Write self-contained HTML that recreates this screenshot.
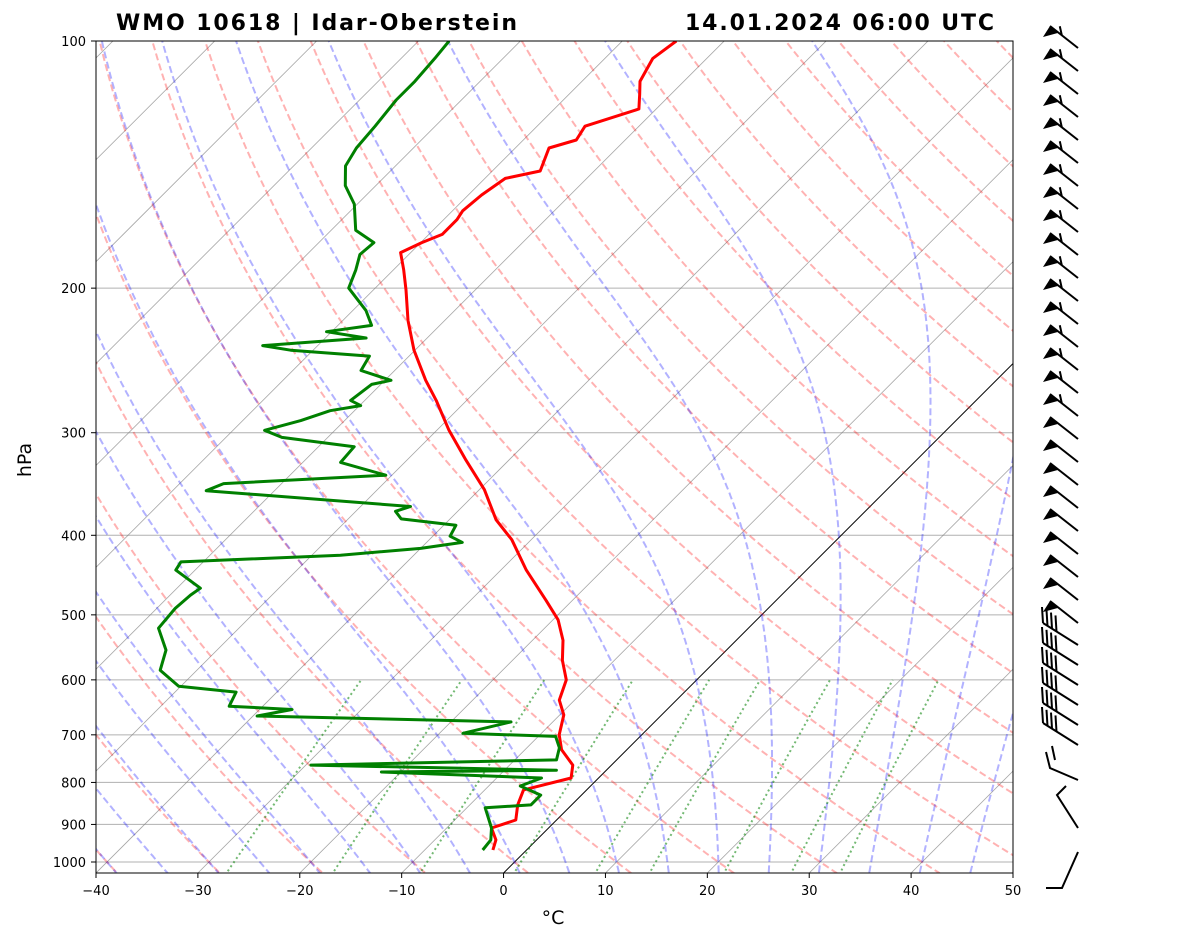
<!DOCTYPE html>
<html><head><meta charset="utf-8"><style>
body{margin:0;background:#fff;}
svg{display:block;font-family:"DejaVu Sans","Liberation Sans",sans-serif;}
</style></head><body>
<svg id="chart" width="1181" height="941" viewBox="0 0 1181 941" xmlns="http://www.w3.org/2000/svg">
<rect width="1181" height="941" fill="#fff"/>
<defs><clipPath id="clip"><rect x="96" y="41" width="917" height="832"/></clipPath></defs>
<g id="bg" clip-path="url(#clip)"></g>
<g id="series" clip-path="url(#clip)"></g>
<g id="axes"></g>
<g id="barbs"></g>
<text x="116" y="30" font-size="22" font-weight="bold" textLength="401" lengthAdjust="spacing">WMO 10618 | Idar-Oberstein</text>
<text x="685" y="30" font-size="22" font-weight="bold" textLength="309" lengthAdjust="spacing">14.01.2024 06:00 UTC</text>
<text x="553" y="924" font-size="19" text-anchor="middle">°C</text>
<text x="31" y="460" font-size="19" text-anchor="middle" transform="rotate(-90 31 460)">hPa</text>
</svg>
<script>
const tempP=[967,940,909,889,852,817,790,762,730,700,662,635,600,568,537,507,480,441,405,383,352,324,298,274,259,238,219,201,190,181,176,172,165,161,154,147,144,135,132,127,121,116,112,105,100];
const tempT=[-3.3,-4.0,-5.6,-4.0,-5.3,-6.2,-2.7,-3.8,-6.4,-8.1,-9.6,-11.5,-12.8,-15.1,-17.0,-19.5,-22.6,-27.5,-31.9,-35.4,-39.5,-44.2,-48.8,-53.0,-56.0,-60.1,-63.6,-66.8,-69.0,-71.0,-69.9,-68.7,-68.7,-69.0,-68.7,-68.0,-65.3,-66.7,-64.8,-65.3,-61.7,-63.1,-64.3,-65.3,-64.7];
const dewP=[967,940,909,859,852,829,808,790,777,773,762,751,726,703,697,675,664,652,646,621,611,584,552,519,491,473,464,441,431,423,415,408,401,389,382,374,369,353,346,338,326,312,304,298,290,282,278,274,262,259,252,242,238,235,230,226,222,213,200,190,182,176,170,158,150,142,135,127,118,112,105,100];
const dewT=[-4.3,-4.5,-5.6,-8.2,-4.0,-4.0,-6.9,-5.6,-21.9,-4.9,-29.5,-5.9,-6.8,-8.3,-17.7,-14.1,-39.6,-36.8,-43.3,-44.0,-50.2,-53.6,-55.0,-57.9,-58.2,-58.0,-57.7,-61.9,-62.2,-47.2,-40.0,-36.5,-38.3,-38.8,-44.8,-46.1,-45.1,-66.7,-65.7,-50.6,-56.3,-56.5,-64.5,-66.9,-64.3,-62.4,-59.9,-61.4,-60.9,-59.4,-63.3,-63.9,-72.2,-75.4,-66.0,-70.5,-66.7,-68.7,-72.6,-73.7,-74.8,-74.6,-77.6,-80.3,-83.0,-84.9,-85.6,-85.9,-86.4,-86.4,-86.7,-87.0];
const xTicks=[-40,-30,-20,-10,0,10,20,30,40,50];
const pTicks=[100,200,300,400,500,600,700,800,900,1000];

const NS="http://www.w3.org/2000/svg";
const K=917/90, YB=873;
function yP(p){return 41+821*Math.log10(p/100);}
function xTP(T,p){return 96+(T+40)*K+(YB-yP(p));}
function mk(tag,attrs,parent){const e=document.createElementNS(NS,tag);for(const k in attrs)e.setAttribute(k,attrs[k]);parent.appendChild(e);return e;}
const bg=document.getElementById('bg'),ser=document.getElementById('series'),ax=document.getElementById('axes'),bb=document.getElementById('barbs');
function pathFrom(pts){return pts.map((q,i)=>(i?'L':'M')+q[0].toFixed(1)+' '+q[1].toFixed(1)).join('');}
const plevs=[];for(let p=1050;p>=100;p-=5)plevs.push(p);

pTicks.forEach(p=>{if(p===100)return;const l=mk('line',{x1:96,x2:1013,y1:yP(p),y2:yP(p),stroke:'#b0b0b0','stroke-width':1},bg);
});
for(let T=-150;T<=50;T+=10){const l=mk('path',{d:pathFrom([[xTP(T,1100),yP(1100)],[xTP(T,90),yP(90)]]),stroke:T===0?'#000':'#808080','stroke-width':T===0?1:0.8,'stroke-opacity':T===0?1:0.7,fill:'none'},bg);
}
for(let t0=-50;t0<=220;t0+=10){const th=t0+273.15;const pts=plevs.map(p=>[xTP(th*Math.pow(p/1000,0.2857)-273.15,p),yP(p)]);
const l=mk('path',{d:pathFrom(pts),stroke:'#ff0000','stroke-opacity':0.3,'stroke-width':2,'stroke-dasharray':'7,3.5',fill:'none'},bg);
}
function es(T){return 6.112*Math.exp(17.67*T/(T+243.5));}
function dTdp(T,p){const Tk=T+273.15,e=es(T),rs=0.622*e/(p-e),Rd=287.04,Lv=2.501e6,Cp=1005.7;
return (Rd*Tk+Lv*rs)/(Cp+Lv*Lv*rs*0.622/(Rd*Tk*Tk))/p;}
function moist(t0){const up=[],dn=[];let T=t0;for(let p=1000;p>=100;p-=2){up.push([xTP(T,p),yP(p)]);T-=dTdp(T,p)*2;}
T=t0;for(let p=1000;p<=1060;p+=2){dn.unshift([xTP(T,p),yP(p)]);T+=dTdp(T,p)*2;}return dn.concat(up);}
for(let t0=-40;t0<=50;t0+=5){const l=mk('path',{d:pathFrom(moist(t0)),stroke:'#0000ff','stroke-opacity':0.3,'stroke-width':2,'stroke-dasharray':'7,3.5',fill:'none'},bg);
}
[0.0004,0.001,0.002,0.004,0.007,0.01,0.016,0.024,0.032].forEach(w=>{const pts=[];for(let p=1050;p>=600;p-=10){const e=w*p/(0.622+w);const l=Math.log(e/6.112);const Td=243.5*l/(17.67-l);pts.push([xTP(Td,p),yP(p)]);}
const l=mk('path',{d:pathFrom(pts),stroke:'#008000','stroke-opacity':0.55,'stroke-width':2,'stroke-dasharray':'2,3',fill:'none'},bg);
});

const tl=mk('path',{d:pathFrom(tempP.map((p,i)=>[xTP(tempT[i],p),yP(p)])),stroke:'#ff0000','stroke-width':3,fill:'none','stroke-linejoin':'round'},ser);

const dl=mk('path',{d:pathFrom(dewP.map((p,i)=>[xTP(dewT[i],p),yP(p)])),stroke:'#008000','stroke-width':3,fill:'none','stroke-linejoin':'round'},ser);


const fr=mk('rect',{x:96,y:41,width:917,height:832,fill:'none',stroke:'#000','stroke-width':1},ax);

xTicks.forEach(T=>{const x=96+(T+40)*K;mk('line',{x1:x,x2:x,y1:873,y2:878,stroke:'#000'},ax);
const t=mk('text',{x:x,y:895,'font-size':13,'text-anchor':'middle'},ax);t.textContent=(T<0?'\u2212'+(-T):T);
});
pTicks.forEach(p=>{const y=yP(p);mk('line',{x1:91,x2:96,y1:y,y2:y,stroke:'#000'},ax);
const t=mk('text',{x:86,y:y+5,'font-size':13,'text-anchor':'end'},ax);t.textContent=p;
});

function barb(y,feather){const bx=1078,by=y,tx=1050,ty=y-22;const g=mk('g',{},bb);

mk('line',{x1:bx,y1:by,x2:tx,y2:ty,stroke:'#000','stroke-width':2},g);
const L=Math.hypot(bx-tx,by-ty),ux=(bx-tx)/L,uy=(by-ty)/L;
const p2x=tx+ux*11,p2y=ty+uy*11;
mk('polygon',{points:`${tx},${ty} ${p2x},${p2y} ${tx-7},${ty+11}`,fill:'#000'},g);
if(feather){const fx=tx+ux*15,fy=ty+uy*15;mk('line',{x1:fx,y1:fy,x2:fx-2,y2:fy-9,stroke:'#000','stroke-width':2},g);}}
for(let y=48;y<=625;y+=23)barb(y,y<420);
for(let y=645;y<=760;y+=20){const g=mk('g',{},bb);
mk('line',{x1:1078,y1:y,x2:1043,y2:y-22,stroke:'#000','stroke-width':2},g);
for(let i=0;i<4;i++){const fx=1043+i*4.5,fy=y-22+i*2.8;mk('line',{x1:fx,y1:fy,x2:fx-1,y2:fy-16,stroke:'#000','stroke-width':2},g);}}
(function(){const g=mk('g',{},bb);
mk('path',{d:'M1078 780 L1050 768 L1046 752 M1055 760 L1052 746 M1078 828 L1057 795 L1066 786 M1046 888 L1062 888 L1078 852',stroke:'#000','stroke-width':2,fill:'none'},g);})();
</script>
</body></html>
